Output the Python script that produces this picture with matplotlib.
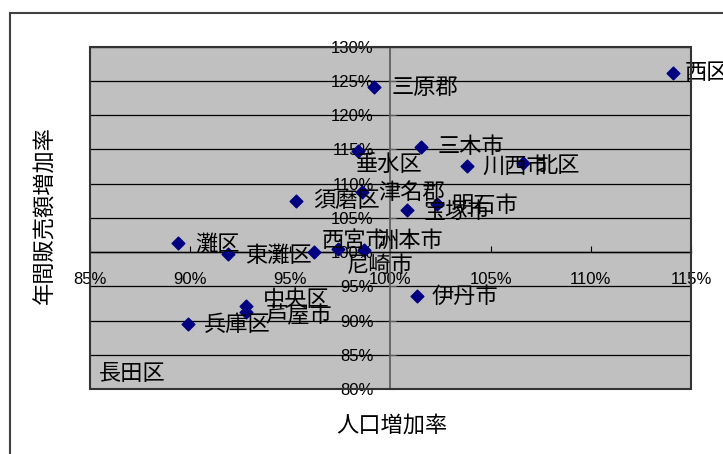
import matplotlib
matplotlib.use("Agg")
import matplotlib.pyplot as plt
from matplotlib.patches import Rectangle

plt.rcParams['font.family'] = ['Noto Sans CJK JP', 'DejaVu Sans']

# 市区郡ごとの人口増加率と年間販売額増加率 (%)
names = ['西区', '三原郡', '三木市', '垂水区', '川西市', '北区', '津名郡', '須磨区',
         '明石市', '宝塚市', '灘区', '東灘区', '西宮市', '洲本市', '尼崎市',
         '伊丹市', '中央区', '芦屋市', '兵庫区', '長田区']
pop_rate = [114.1, 99.2, 101.5, 98.4, 103.8, 106.6, 98.6, 95.3,
            102.3, 100.8, 89.4, 91.9, 96.2, 98.7, 97.4,
            101.3, 92.8, 92.8, 89.9, 83.0]
sales_rate = [126.2, 124.1, 115.4, 114.8, 112.6, 113.0, 108.8, 107.5,
              107.0, 106.2, 101.3, 99.7, 100.0, 100.3, 100.4,
              93.6, 92.1, 91.3, 89.5, 76.0]

x_ticks = [85, 90, 95, 100, 105, 110, 115]
y_ticks = [80, 85, 90, 95, 100, 105, 110, 115, 120, 125, 130]

# ラベルの位置 (点からのずらし, ピクセル)
label_offsets = [(12, 0), (17, 0), (17, 0), (-3, -14), (16, 0), (13, -2), (16, -1), (17, 0),
                 (15, -1), (17, -2), (17, -1), (17, -1), (7, 12), (12, 10), (8, -16),
                 (15, -1), (17, 7), (19, -4), (16, -1), (9, 15)]

fig = plt.figure(figsize=(7.23, 4.54), dpi=100)
W, H = 723, 454

# グラフエリアの枠
fig.patches.append(Rectangle((10 / W, -0.5), 2, 1 - 13 / H + 0.5, transform=fig.transFigure,
                             fill=False, edgecolor='#404040', linewidth=1.5))

ax = fig.add_axes([90 / W, 1 - 389 / H, 601 / W, 342.3 / H])
ax.set_facecolor('#C0C0C0')
ax.set_xlim(85, 115)
ax.set_ylim(80, 130)

# 軸は100%で交差
ax.spines['left'].set_position(('data', 100))
ax.spines['bottom'].set_position(('data', 100))
ax.spines['left'].set_color('#606060')
ax.spines['left'].set_linewidth(1.3)
ax.spines['bottom'].set_color('black')
ax.spines['bottom'].set_linewidth(1.0)
ax.spines['top'].set_visible(False)
ax.spines['right'].set_visible(False)
ax.add_patch(Rectangle((0, 0), 1, 1, transform=ax.transAxes, fill=False,
                       edgecolor='#333333', linewidth=1.5, clip_on=False, zorder=5))

ax.set_xticks(x_ticks)
ax.set_xticklabels([f'{v}%' for v in x_ticks], family='Liberation Sans', fontsize=12)
ax.set_yticks(y_ticks)
ax.set_yticklabels([f'{v}%' for v in y_ticks], family='Liberation Sans', fontsize=12)
ax.tick_params(axis='x', direction='in', length=4, color='black', pad=14)
ax.tick_params(axis='y', direction='in', length=4, color='#606060', pad=12)
ax.yaxis.grid(True, color='black', linewidth=0.9)
ax.set_axisbelow(True)

ax.scatter(pop_rate, sales_rate, marker='D', s=42, color='#000080', zorder=3)

# データラベル (範囲外の点は左下の角に寄せる)
for name, x, y, (dx, dy) in zip(names, pop_rate, sales_rate, label_offsets):
    ax.annotate(name, (max(x, 85), max(y, 80)), xytext=(dx, dy), textcoords='offset pixels',
                ha='left', va='center', fontsize=16, color='black',
                annotation_clip=False, zorder=4)

fig.text(392 / W, 1 - 425 / H, '人口増加率', ha='center', va='center', fontsize=16)
fig.text(45 / W, 1 - 215 / H, '年間販売額増加率', ha='center', va='center',
         fontsize=16, rotation=90)

fig.savefig('out.png', dpi=100)
